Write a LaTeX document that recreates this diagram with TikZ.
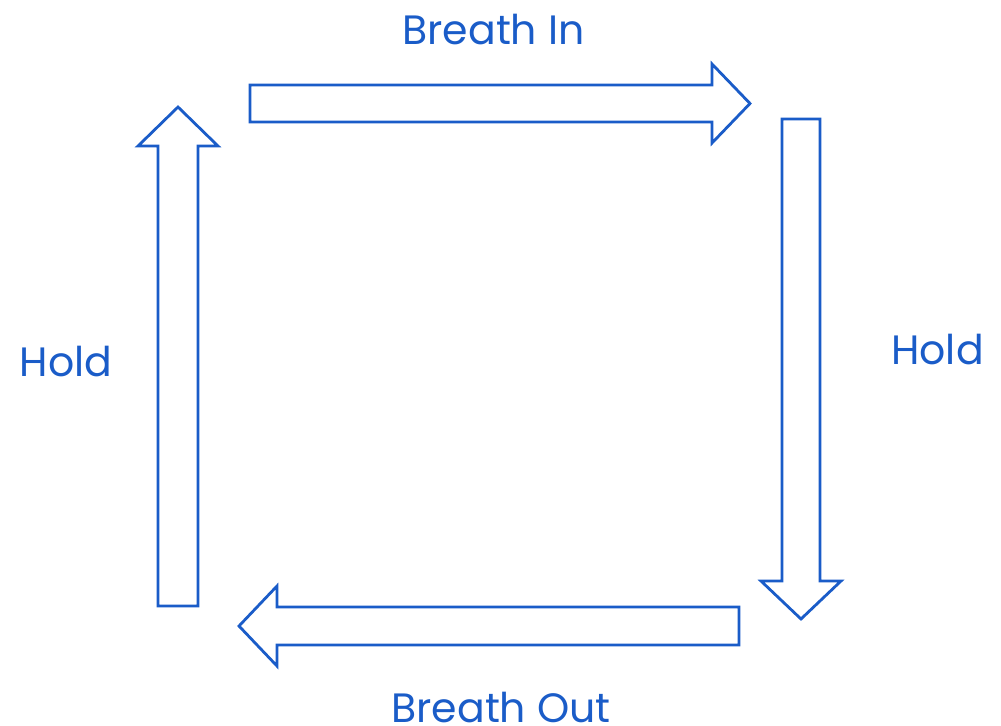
\documentclass[tikz,border=0pt]{standalone}
\usepackage{fontspec}
\setmainfont{Poppins}
\usepackage{tikz}
\definecolor{breathblue}{RGB}{26,92,200}

\begin{document}
\begin{tikzpicture}[x=0.5pt, y=-0.5pt,
	blockarrow/.style={draw=breathblue, line width=1.4pt, line join=miter},
	every node/.style={text=breathblue, font=\fontsize{20.5}{24}\selectfont, anchor=base, inner sep=0pt}]
	\useasboundingbox (0,0) rectangle (1001,725);
	% the four block arrows, clockwise from the top
	\draw[blockarrow] (250,85) -- (712,85) -- (712,64) -- (750,103.5) -- (712,143) -- (712,122) -- (250,122) -- cycle;
	\draw[blockarrow] (782,119) -- (820,119) -- (820,581) -- (841,581) -- (801,619) -- (761,581) -- (782,581) -- cycle;
	\draw[blockarrow] (739,607) -- (277,607) -- (277,586) -- (239,626) -- (277,666) -- (277,645) -- (739,645) -- cycle;
	\draw[blockarrow] (158,606) -- (158,146) -- (138,146) -- (178,107) -- (218,146) -- (198,146) -- (198,606) -- cycle;
	% labels
	\node (in)    at (493.5,44)  {Breath In};
	\node (holdR) at (937.5,364) {Hold};
	\node (out)   at (501,722)   {Breath Out};
	\node (holdL) at (66,376.5)  {Hold};
\end{tikzpicture}
\end{document}
